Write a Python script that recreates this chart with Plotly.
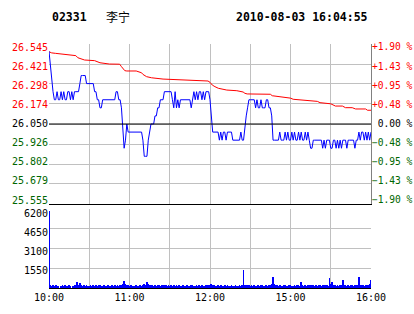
import plotly.graph_objects as go

# ---------------- data ----------------
STOCK_CODE = "02331"
STOCK_NAME = "李宁"
TIMESTAMP = "2010-08-03 16:04:55"
PREV_CLOSE = 26.05

price_ticks = [25.555, 25.679, 25.802, 25.926, 26.050, 26.174, 26.298, 26.421, 26.545]
price_labels = ["25.555", "25.679", "25.802", "25.926", "26.050", "26.174", "26.298", "26.421", "26.545"]
pct_labels = ["-1.90 %", "-1.43 %", "-0.95 %", "-0.48 %", "0.00 %", "+0.48 %", "+0.95 %", "+1.43 %", "+1.90 %"]
vol_ticks = [0, 1550, 3100, 4650, 6200]
vol_labels = ["1550", "3100", "4650", "6200"]
time_ticks = [0, 30, 60, 90, 120, 150, 180, 210, 240]
time_labels = ["10:00", "", "11:00", "", "12:00", "", "15:00", "", "16:00"]

minutes = list(range(241))

price = [
    26.50, 26.40, 26.30, 26.25, 26.20, 26.20, 26.25, 26.20, 26.20, 26.25,   # 0-9
    26.20, 26.25, 26.20, 26.20, 26.25, 26.25, 26.20, 26.25, 26.20, 26.25,   # 10-19
    26.25, 26.25, 26.25, 26.30, 26.35, 26.35, 26.35, 26.35, 26.30, 26.30,   # 20-29
    26.30, 26.30, 26.30, 26.30, 26.25, 26.25, 26.20, 26.20, 26.15, 26.15,   # 30-39
    26.20, 26.20, 26.20, 26.20, 26.20, 26.20, 26.20, 26.20, 26.20, 26.20,   # 40-49
    26.25, 26.25, 26.20, 26.20, 26.15, 26.00, 25.90, 25.95, 26.05, 26.00,   # 50-59
    26.00, 26.00, 26.00, 26.00, 26.00, 26.00, 26.00, 26.00, 26.00, 26.00,   # 60-69
    25.95, 25.85, 25.85, 25.85, 25.95, 26.00, 26.05, 26.05, 26.05, 26.10,   # 70-79
    26.10, 26.15, 26.15, 26.20, 26.20, 26.20, 26.25, 26.25, 26.25, 26.25,   # 80-89
    26.25, 26.25, 26.20, 26.15, 26.25, 26.15, 26.20, 26.15, 26.20, 26.20,   # 90-99
    26.20, 26.20, 26.20, 26.20, 26.20, 26.20, 26.15, 26.20, 26.25, 26.20,   # 100-109
    26.25, 26.20, 26.25, 26.25, 26.20, 26.25, 26.20, 26.25, 26.25, 26.25,   # 110-119
    26.20, 26.10, 26.00, 26.00, 26.00, 26.00, 26.00, 25.95, 26.00, 25.95,   # 120-129
    26.00, 26.00, 25.95, 26.00, 26.00, 26.00, 26.00, 25.95, 25.95, 25.95,   # 130-139
    25.95, 25.95, 25.95, 26.00, 25.95, 25.95, 26.05, 26.10, 26.15, 26.20,   # 140-149
    26.20, 26.20, 26.20, 26.20, 26.15, 26.20, 26.15, 26.15, 26.20, 26.15,   # 150-159
    26.15, 26.15, 26.20, 26.20, 26.15, 26.15, 26.10, 25.95, 25.95, 25.95,   # 160-169
    25.95, 25.95, 26.00, 25.95, 25.95, 25.95, 26.00, 25.95, 26.00, 25.95,   # 170-179
    25.95, 26.00, 25.95, 26.00, 25.95, 25.95, 26.00, 25.95, 26.00, 25.95,   # 180-189
    25.95, 26.00, 25.95, 26.00, 25.95, 25.90, 25.90, 25.95, 25.95, 25.95,   # 190-199
    25.95, 25.95, 25.95, 25.95, 25.90, 25.95, 25.90, 25.95, 25.95, 25.95,   # 200-209
    25.90, 25.90, 25.95, 25.95, 25.90, 25.95, 25.90, 25.95, 25.90, 25.95,   # 210-219
    25.95, 25.95, 25.90, 25.95, 25.95, 25.95, 25.95, 25.95, 25.90, 25.95,   # 220-229
    25.95, 26.00, 25.95, 26.00, 26.00, 25.95, 26.00, 25.95, 26.00, 25.95,   # 230-239
    26.00,                                                                   # 240
]

avg_minutes = [0, 2, 5, 9, 14, 20, 21.5, 23, 26.5, 34, 38, 45, 52.7, 54, 56.5, 58, 65, 69, 70,
               72.7, 76.4, 85, 92, 96, 103.5, 118.5, 120, 121.7, 123.7, 126.2, 132.5, 140,
               144.7, 146, 147.7, 165, 166.4, 176, 180, 182, 189, 195, 200, 202, 210,
               213.5, 218.7, 221, 226, 228.5, 236, 237.4, 240]
avg_price = [26.497, 26.490, 26.487, 26.483, 26.479, 26.473, 26.460, 26.455, 26.446, 26.442,
             26.429, 26.421, 26.420, 26.405, 26.380, 26.378, 26.378, 26.367, 26.357,
             26.343, 26.336, 26.328, 26.325, 26.322, 26.318, 26.316, 26.308, 26.291, 26.281,
             26.271, 26.260, 26.256, 26.248, 26.240, 26.236, 26.234, 26.225, 26.215, 26.210,
             26.203, 26.197, 26.192, 26.190, 26.182, 26.175, 26.161, 26.161, 26.151, 26.151,
             26.143, 26.143, 26.135, 26.135]

volume = [
    6050, 250, 180, 200, 160, 220, 150, 190, 0, 170, 210, 160, 230, 180, 140, 200, 170, 0, 190, 220,
    260, 500, 200, 400, 230, 180, 210, 170, 250, 190, 160, 220, 180, 200, 150, 210, 190, 230, 250, 180,
    170, 200, 160, 190, 220, 180, 150, 210, 170, 200, 190, 230, 180, 210, 260, 350, 520, 300, 240, 200,
    180, 210, 160, 190, 170, 200, 150, 180, 220, 170, 260, 280, 240, 480, 300, 220, 190, 210, 170, 200,
    180, 230, 200, 190, 210, 250, 240, 200, 180, 220, 170, 200, 190, 210, 160, 200, 180, 220, 170, 190,
    200, 160, 190, 210, 180, 170, 200, 220, 160, 190, 210, 180, 200, 170, 230, 190, 180, 210, 200, 220,
    260, 300, 240, 200, 180, 190, 210, 170, 200, 180, 160, 220, 190, 200, 170, 180, 210, 190, 160, 200,
    180, 190, 210, 170, 200, 1400, 260, 230, 210, 200,
    190, 210, 180, 200, 170, 190, 220, 180, 200, 210, 170, 190, 200, 180, 220, 240, 300, 860, 280, 220,
    200, 180, 210, 190, 170, 200, 220, 190, 180, 210, 200, 170, 190, 230, 180, 200, 210, 190, 440, 200,
    180, 210, 190, 200, 220, 260, 230, 200, 190, 210, 180, 200, 220, 190, 210, 180, 200, 230, 190, 800,
    280, 500, 210, 200, 190, 220, 180, 200, 210, 600, 230, 200, 190, 210, 180, 220, 200, 190, 230, 210,
    250, 900, 260, 220, 200, 190, 210, 230, 200, 280, 650,
]

# ---------------- styling ----------------
RED = "#ff0000"
GREEN = "#006600"
BLUE = "#0000ff"
GRID = "#c0c0c0"
MONO = "DejaVu Sans Mono"


def colored(text, value):
    if abs(value - PREV_CLOSE) < 1e-6:
        c = "#000000"
    elif value > PREV_CLOSE:
        c = RED
    else:
        c = GREEN
    return f'<span style="color:{c}">{text}</span>'


left_text = [colored(t, v) for t, v in zip(price_labels, price_ticks)]
right_text = []
for t, v in zip(pct_labels, price_ticks):
    if abs(v - PREV_CLOSE) < 1e-6:
        t = '<span style="color:#ffffff">+</span>' + t
    right_text.append(colored(t.replace("-", "\u2212"), v))

label_idx = list(range(len(price_ticks)))
vol_idx = list(range(1, len(vol_labels) + 1))

fig = go.Figure()

fig.add_trace(go.Scatter(x=avg_minutes, y=avg_price, mode="lines",
                         line=dict(color=RED, width=1), xaxis="x", yaxis="y",
                         hoverinfo="skip", showlegend=False))
fig.add_trace(go.Scatter(x=minutes, y=price, mode="lines",
                         line=dict(color=BLUE, width=1), xaxis="x", yaxis="y",
                         hoverinfo="skip", showlegend=False))
fig.add_trace(go.Bar(x=minutes, y=volume, width=0.6, marker=dict(color=BLUE, line=dict(width=0)),
                     xaxis="x2", yaxis="y2", hoverinfo="skip", showlegend=False))
# invisible helpers for label axes
for ya in ["y3", "y4"]:
    fig.add_trace(go.Scatter(x=[0], y=[4], mode="markers", marker=dict(opacity=0),
                             xaxis="x", yaxis=ya, hoverinfo="skip", showlegend=False))
fig.add_trace(go.Scatter(x=[0], y=[2], mode="markers", marker=dict(opacity=0),
                         xaxis="x2", yaxis="y5", hoverinfo="skip", showlegend=False))

price_dom = [84 / 244, 1]
vol_dom = [0, 79 / 244]

fig.update_layout(
    width=414, height=314,
    margin=dict(l=49, r=43, t=44, b=26, pad=0, autoexpand=False),
    paper_bgcolor="white", plot_bgcolor="white",
    font=dict(family=MONO, size=10, color="black"),
    bargap=0,
    xaxis=dict(domain=[0, 1], anchor="y", range=[0, 240], tickvals=time_ticks,
               showticklabels=False, showgrid=True, gridcolor=GRID, gridwidth=1,
               showline=True, linecolor="black", linewidth=1, zeroline=False, ticks="",
               automargin=False),
    xaxis2=dict(domain=[0, 1], anchor="y2", range=[0, 240], tickvals=time_ticks,
                ticktext=time_labels, showgrid=True, gridcolor=GRID, gridwidth=1,
                showline=True, linecolor="black", linewidth=1, zeroline=False, ticks="",
                tickfont=dict(family=MONO, size=10, color="black"), matches="x",
                automargin=False),
    yaxis=dict(domain=price_dom, anchor="x", range=[price_ticks[0], price_ticks[-1]],
               tickvals=price_ticks, showticklabels=False, showgrid=True, gridcolor=GRID,
               gridwidth=1, zeroline=False, ticks="", showline=False, automargin=False),
    yaxis3=dict(overlaying="y", side="left", anchor="x", range=[-0.209, 8.157],
                tickvals=label_idx, ticktext=left_text, showgrid=False, zeroline=False,
                ticks="", tickfont=dict(family=MONO, size=10), automargin=False),
    yaxis4=dict(overlaying="y", side="right", anchor="x", range=[-0.209, 8.157],
                tickvals=label_idx, ticktext=right_text, showgrid=False, zeroline=False,
                ticks="", showline=True, linecolor="#808080", linewidth=1,
                ticklabelstandoff=-2,
                tickfont=dict(family=MONO, size=9.6), automargin=False),
    yaxis2=dict(domain=vol_dom, anchor="x2", range=[0, 6200], tickvals=vol_ticks,
                showticklabels=False, showgrid=True, gridcolor=GRID, gridwidth=1,
                zeroline=False, ticks="", automargin=False),
    yaxis5=dict(overlaying="y2", side="left", anchor="x2", range=[0.0526, 4.2105],
                tickvals=vol_idx, ticktext=vol_labels, showgrid=False, zeroline=False,
                ticks="", tickfont=dict(family=MONO, size=10, color="black"),
                automargin=False),
    shapes=[dict(type="line", xref="x domain", yref="y", x0=0, x1=1,
                 y0=PREV_CLOSE, y1=PREV_CLOSE, line=dict(color="black", width=1))],
    annotations=[
        dict(text=f"<b>{STOCK_CODE}</b>", xref="paper", yref="paper", x=1 / 322, y=1.1107,
             xanchor="left", yanchor="middle", showarrow=False,
             font=dict(family=MONO, size=11.5, color="black")),
        dict(text=STOCK_NAME, xref="paper", yref="paper", x=55 / 322, y=1.1107,
             xanchor="left", yanchor="middle", showarrow=False,
             font=dict(family="Noto Sans CJK SC", size=12, color="black")),
        dict(text=f"<b>{TIMESTAMP}</b>", xref="paper", yref="paper", x=321 / 322, y=1.1107,
             xanchor="right", yanchor="middle", showarrow=False,
             font=dict(family=MONO, size=11.5, color="black")),
    ],
)

fig.write_html("out.html")
